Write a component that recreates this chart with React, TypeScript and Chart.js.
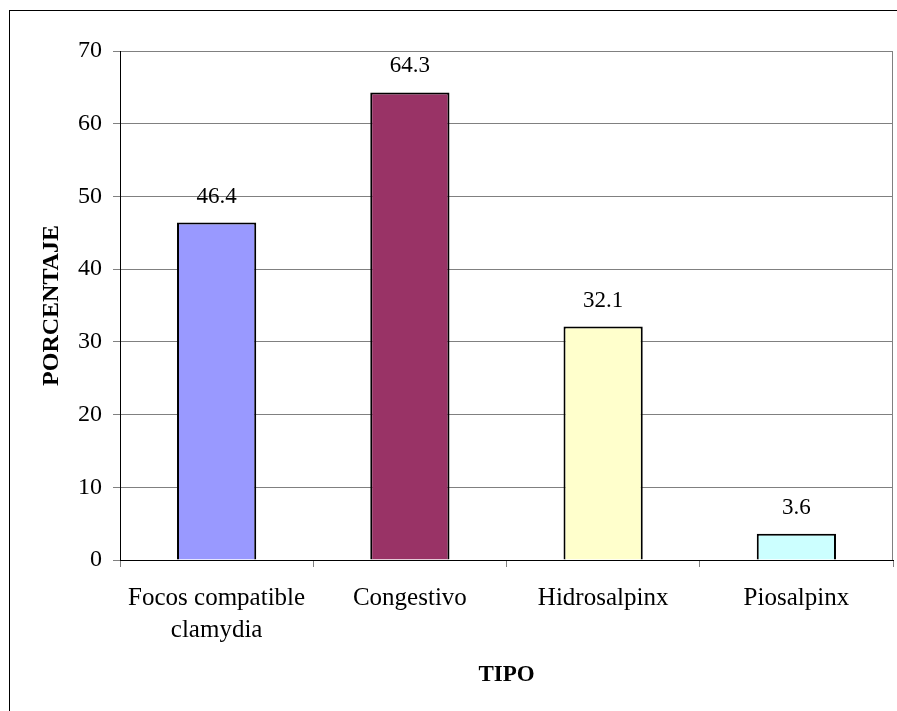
import React, { useEffect, useRef } from "react";
import { Chart, registerables } from "chart.js";

Chart.register(...registerables);

// Distribution by type (percent)
const categories: (string | string[])[] = [
  ["Focos compatible", "clamydia"],
  "Congestivo",
  "Hidrosalpinx",
  "Piosalpinx",
];
const percentages = [46.4, 64.3, 32.1, 3.6];
const barColors = ["#9999FF", "#993366", "#FFFFCC", "#CCFFFF"];
const yTitle = "PORCENTAJE";
const xTitle = "TIPO";
const yMax = 70;
const yStep = 10;

const FONT = "'Liberation Serif', 'Times New Roman', serif";

// Frame around the whole chart plus the right edge of the plot area
const framePlugin = {
  id: "frame",
  beforeDraw(chart: any) {
    const { ctx } = chart;
    ctx.save();
    ctx.fillStyle = "#ffffff";
    ctx.fillRect(0, 0, chart.width, chart.height);
    ctx.strokeStyle = "#000000";
    ctx.lineWidth = 1;
    ctx.strokeRect(9.5, 10.5, chart.width + 20, chart.height + 20);
    ctx.restore();
  },
  afterDatasetsDraw(chart: any) {
    const { ctx, chartArea } = chart;
    ctx.save();
    ctx.strokeStyle = "#808080";
    ctx.lineWidth = 1;
    ctx.beginPath();
    ctx.moveTo(Math.round(chartArea.right) - 0.5, chartArea.top);
    ctx.lineTo(Math.round(chartArea.right) - 0.5, chartArea.bottom);
    ctx.stroke();
    ctx.restore();
  },
};

// Value labels above each bar
const valueLabelPlugin = {
  id: "valueLabels",
  afterDatasetsDraw(chart: any) {
    const { ctx } = chart;
    const meta = chart.getDatasetMeta(0);
    ctx.save();
    ctx.font = `23px ${FONT}`;
    ctx.fillStyle = "#000000";
    ctx.textAlign = "center";
    ctx.textBaseline = "middle";
    meta.data.forEach((bar: any, i: number) => {
      const v = chart.data.datasets[0].data[i];
      ctx.fillText(String(v), bar.x, bar.y - 26);
    });
    ctx.restore();
  },
};

export default function App() {
  const canvasRef = useRef<HTMLCanvasElement | null>(null);

  useEffect(() => {
    if (!canvasRef.current) return;
    const chart = new Chart(canvasRef.current, {
      type: "bar",
      data: {
        labels: categories,
        datasets: [
          {
            data: percentages,
            backgroundColor: barColors,
            borderColor: "#000000",
            borderWidth: 2,
            categoryPercentage: 1,
            barPercentage: 0.41,
          },
        ],
      },
      options: {
        animation: false,
        responsive: false,
        devicePixelRatio: 1,
        layout: { padding: { left: 0, top: 51, right: 4, bottom: 0 } },
        plugins: {
          legend: { display: false },
          tooltip: { enabled: false },
        },
        scales: {
          x: {
            offset: true,
            afterFit(scale: any) {
              scale.height = 151;
            },
            grid: {
              offset: true,
              drawOnChartArea: false,
              drawTicks: true,
              tickLength: 7,
              color: "#808080",
            },
            border: { display: true, color: "#000000", width: 1 },
            ticks: {
              color: "#000000",
              padding: 15,
              maxRotation: 0,
              autoSkip: false,
              font: { family: FONT, size: 25, lineHeight: 1.28 },
            },
            title: {
              display: true,
              text: xTitle,
              color: "#000000",
              font: { family: FONT, size: 23, weight: "bold" },
              padding: { top: 0, bottom: 22 },
            },
          },
          y: {
            min: 0,
            max: yMax,
            afterFit(scale: any) {
              scale.width = 120;
            },
            grid: {
              color: "#808080",
              lineWidth: 1,
              drawTicks: true,
              tickLength: 7,
            },
            border: { display: true, color: "#000000", width: 1 },
            ticks: {
              stepSize: yStep,
              color: "#000000",
              padding: 11,
              font: { family: FONT, size: 24 },
            },
            title: {
              display: true,
              text: yTitle,
              color: "#000000",
              font: { family: FONT, size: 24, weight: "bold" },
              padding: { top: 37, bottom: 0 },
            },
          },
        },
      },
      plugins: [framePlugin, valueLabelPlugin],
    });
    return () => chart.destroy();
  }, []);

  return (
    <div
      style={{
        position: "fixed",
        left: 0,
        top: 0,
        width: 897,
        height: 711,
        overflow: "hidden",
        background: "#ffffff",
      }}
    >
      <canvas
        ref={canvasRef}
        width={897}
        height={711}
        style={{ display: "block", width: 897, height: 711 }}
      />
    </div>
  );
}
